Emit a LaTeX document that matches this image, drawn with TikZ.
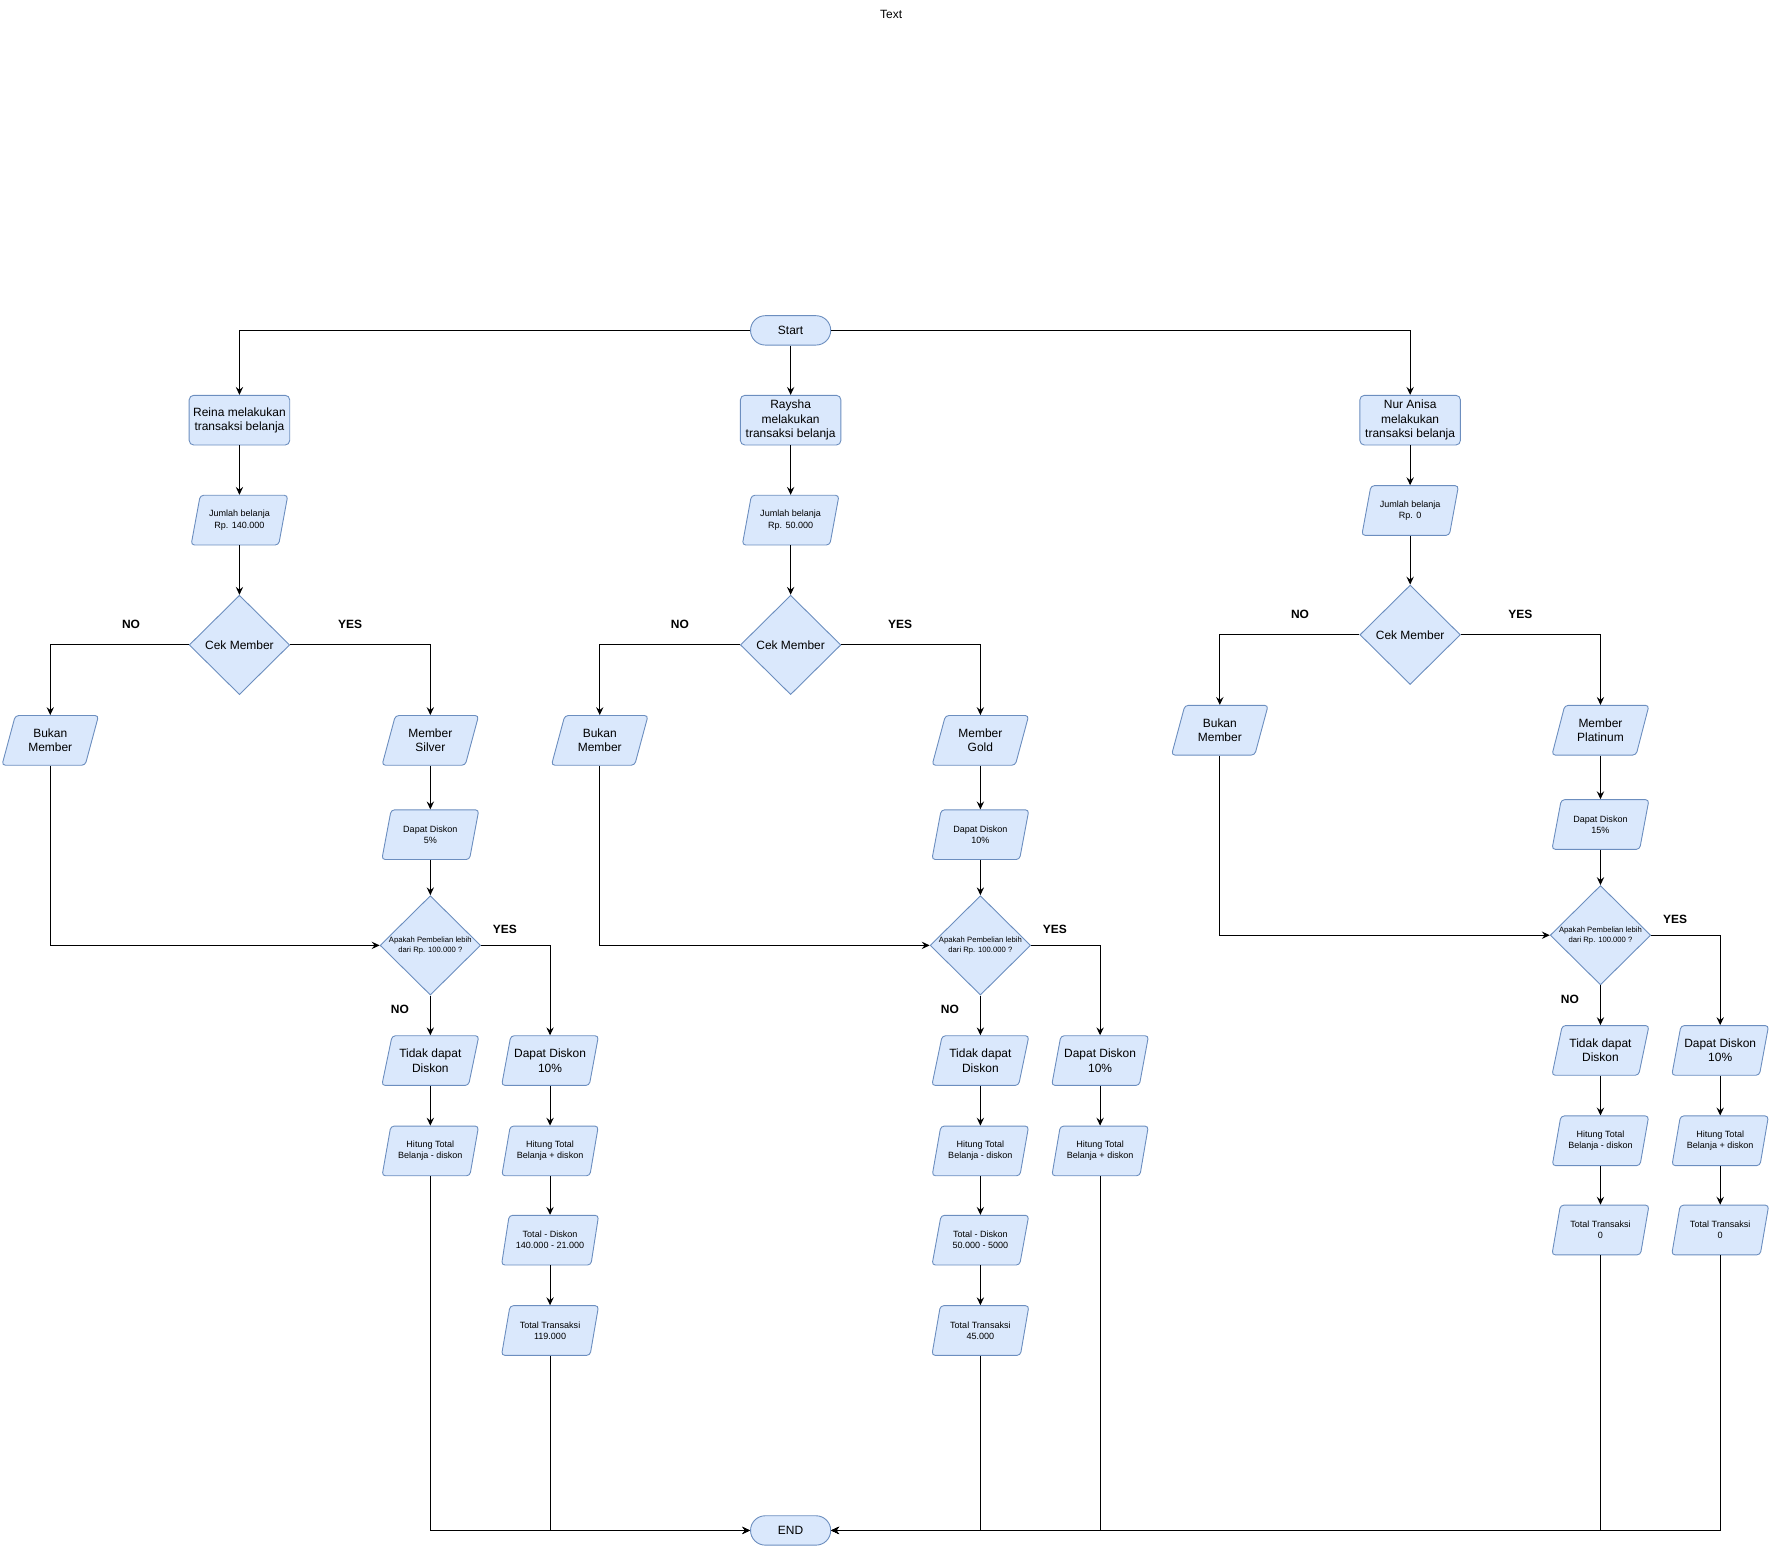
\documentclass[tikz,border=0pt]{standalone}
\usepackage{fontspec}
\setmainfont{Liberation Sans}
\usetikzlibrary{shapes.geometric,arrows.meta}
\definecolor{fcol}{HTML}{DAE8FC}
\definecolor{dcol}{HTML}{6C8EBF}
\tikzset{
  fmain/.style={font=\fontsize{10.6}{12.7}\selectfont},
  fsmall/.style={font=\fontsize{8}{9.8}\selectfont},
  ftiny/.style={font=\fontsize{6.8}{8.6}\selectfont},
  base/.style={draw=dcol, fill=fcol, line width=0.8pt, inner sep=0pt, align=center, text=black},
  person/.style={base, rectangle, rounded corners=4pt, minimum width=89pt, minimum height=44pt, fmain},
  io/.style={base, trapezium, trapezium left angle=70, trapezium right angle=110,
    trapezium stretches=true, minimum width=86pt, minimum height=44pt, rounded corners=3pt},
  iomain/.style={io, fmain},
  iosmall/.style={io, fsmall},
  term/.style={base, rectangle, rounded corners=13pt, minimum width=71pt, minimum height=26pt, fmain},
  dec/.style={base, diamond, minimum width=89pt, minimum height=88pt, fmain},
  declab/.style={ftiny, align=center, inner sep=0pt, text=black},
  arr/.style={draw=black, line width=0.9pt, -{Stealth[length=7pt,width=6.5pt,inset=2.5pt]}},
  yn/.style={font=\fontsize{10.6}{12.7}\selectfont\bfseries, text=black, inner sep=0pt}
}
\begin{document}
\begin{tikzpicture}[x=1pt,y=-1pt]
\useasboundingbox (0,0) rectangle (1568,1369);

\node[fmain] (title) at (789,13) {Text};
\node[term] (start) at (700,292.5) {Start};
\node[term] (end) at (700,1355) {END};

% ---------- column 1 ----------
\node[person] (reina) at (212,372) {Reina melakukan\\transaksi belanja};
\node[iosmall] (jml1) at (212,460.5) {Jumlah belanja\\Rp. 140.000};
\node[dec] (cek1) at (212,571) {Cek Member};
\node[iomain] (bukan1) at (44.5,655.5) {Bukan\\Member};
\node[iomain] (silver) at (381,655.5) {Member\\Silver};
\node[iosmall] (dd5) at (381,739) {Dapat Diskon\\5\%};
\node[dec, label={[declab]center:{Apakah Pembelian lebih\\dari Rp. 100.000 ?}}] (dec1) at (381,837) {};
\node[iomain] (tidak1) at (381,939) {Tidak dapat\\Diskon};
\node[iomain] (dd10a) at (487,939) {Dapat Diskon\\10\%};
\node[iosmall] (hit1m) at (381,1019) {Hitung Total\\Belanja - diskon};
\node[iosmall] (hit1p) at (487,1019) {Hitung Total\\Belanja + diskon};
\node[iosmall] (tot1) at (487,1098) {Total - Diskon\\140.000 - 21.000};
\node[iosmall] (tt1) at (487,1178) {Total Transaksi\\119.000};
\node[yn] (no1) at (116,553) {NO};
\node[yn] (yes1) at (310,553) {YES};
\node[yn] (yes1b) at (447,823) {YES};
\node[yn] (no1b) at (354,894) {NO};

% ---------- column 2 ----------
\node[person] (raysha) at (700,372) {Raysha\\melakukan\\transaksi belanja};
\node[iosmall] (jml2) at (700,460.5) {Jumlah belanja\\Rp. 50.000};
\node[dec] (cek2) at (700,571) {Cek Member};
\node[iomain] (bukan2) at (531,655.5) {Bukan\\Member};
\node[iomain] (gold) at (868,655.5) {Member\\Gold};
\node[iosmall] (dd10b) at (868,739) {Dapat Diskon\\10\%};
\node[dec, label={[declab]center:{Apakah Pembelian lebih\\dari Rp. 100.000 ?}}] (dec2) at (868,837) {};
\node[iomain] (tidak2) at (868,939) {Tidak dapat\\Diskon};
\node[iomain] (dd10c) at (974,939) {Dapat Diskon\\10\%};
\node[iosmall] (hit2m) at (868,1019) {Hitung Total\\Belanja - diskon};
\node[iosmall] (hit2p) at (974,1019) {Hitung Total\\Belanja + diskon};
\node[iosmall] (tot2) at (868,1098) {Total - Diskon\\50.000 - 5000};
\node[iosmall] (tt2) at (868,1178) {Total Transaksi\\45.000};
\node[yn] (no2) at (602,553) {NO};
\node[yn] (yes2) at (797,553) {YES};
\node[yn] (yes2b) at (934,823) {YES};
\node[yn] (no2b) at (841,894) {NO};

% ---------- column 3 ----------
\node[person] (anisa) at (1248.5,372) {Nur Anisa\\melakukan\\transaksi belanja};
\node[iosmall] (jml3) at (1248.5,452) {Jumlah belanja\\Rp. 0};
\node[dec] (cek3) at (1248.5,562) {Cek Member};
\node[iomain] (bukan3) at (1080,646.5) {Bukan\\Member};
\node[iomain] (plat) at (1417,646.5) {Member\\Platinum};
\node[iosmall] (dd15) at (1417,730) {Dapat Diskon\\15\%};
\node[dec, label={[declab]center:{Apakah Pembelian lebih\\dari Rp. 100.000 ?}}] (dec3) at (1417,828) {};
\node[iomain] (tidak3) at (1417,930) {Tidak dapat\\Diskon};
\node[iomain] (dd10d) at (1523,930) {Dapat Diskon\\10\%};
\node[iosmall] (hit3m) at (1417,1010) {Hitung Total\\Belanja - diskon};
\node[iosmall] (hit3p) at (1523,1010) {Hitung Total\\Belanja + diskon};
\node[iosmall] (tt3a) at (1417,1089) {Total Transaksi\\0};
\node[iosmall] (tt3b) at (1523,1089) {Total Transaksi\\0};
\node[yn] (no3) at (1151,544) {NO};
\node[yn] (yes3) at (1346,544) {YES};
\node[yn] (yes3b) at (1483,814) {YES};
\node[yn] (no3b) at (1390,885) {NO};

% ---------- connectors ----------
\draw[arr] (start.west) -| (reina.north);
\draw[arr] (start.south) -- (raysha.north);
\draw[arr] (start.east) -| (anisa.north);

% column 1
\draw[arr] (reina.south) -- (jml1.90);
\draw[arr] (jml1.270) -- (cek1.north);
\draw[arr] (cek1.west) -| (bukan1.90);
\draw[arr] (cek1.east) -| (silver.90);
\draw[arr] (silver.270) -- (dd5.90);
\draw[arr] (dd5.270) -- (dec1.north);
\draw[arr] (bukan1.270) |- (dec1.west);
\draw[arr] (dec1.south) -- (tidak1.90);
\draw[arr] (dec1.east) -| (dd10a.90);
\draw[arr] (tidak1.270) -- (hit1m.90);
\draw[arr] (dd10a.270) -- (hit1p.90);
\draw[arr] (hit1p.270) -- (tot1.90);
\draw[arr] (tot1.270) -- (tt1.90);
\draw[arr] (hit1m.270) |- (end.west);
\draw[arr] (tt1.270) |- (end.west);

% column 2
\draw[arr] (raysha.south) -- (jml2.90);
\draw[arr] (jml2.270) -- (cek2.north);
\draw[arr] (cek2.west) -| (bukan2.90);
\draw[arr] (cek2.east) -| (gold.90);
\draw[arr] (gold.270) -- (dd10b.90);
\draw[arr] (dd10b.270) -- (dec2.north);
\draw[arr] (bukan2.270) |- (dec2.west);
\draw[arr] (dec2.south) -- (tidak2.90);
\draw[arr] (dec2.east) -| (dd10c.90);
\draw[arr] (tidak2.270) -- (hit2m.90);
\draw[arr] (dd10c.270) -- (hit2p.90);
\draw[arr] (hit2m.270) -- (tot2.90);
\draw[arr] (tot2.270) -- (tt2.90);
\draw[arr] (tt2.270) |- (end.east);
\draw[arr] (hit2p.270) |- (end.east);

% column 3
\draw[arr] (anisa.south) -- (jml3.90);
\draw[arr] (jml3.270) -- (cek3.north);
\draw[arr] (cek3.west) -| (bukan3.90);
\draw[arr] (cek3.east) -| (plat.90);
\draw[arr] (plat.270) -- (dd15.90);
\draw[arr] (dd15.270) -- (dec3.north);
\draw[arr] (bukan3.270) |- (dec3.west);
\draw[arr] (dec3.south) -- (tidak3.90);
\draw[arr] (dec3.east) -| (dd10d.90);
\draw[arr] (tidak3.270) -- (hit3m.90);
\draw[arr] (dd10d.270) -- (hit3p.90);
\draw[arr] (hit3m.270) -- (tt3a.90);
\draw[arr] (hit3p.270) -- (tt3b.90);
\draw[arr] (tt3a.270) |- (end.east);
\draw[arr] (tt3b.270) |- (end.east);
\end{tikzpicture}
\end{document}
